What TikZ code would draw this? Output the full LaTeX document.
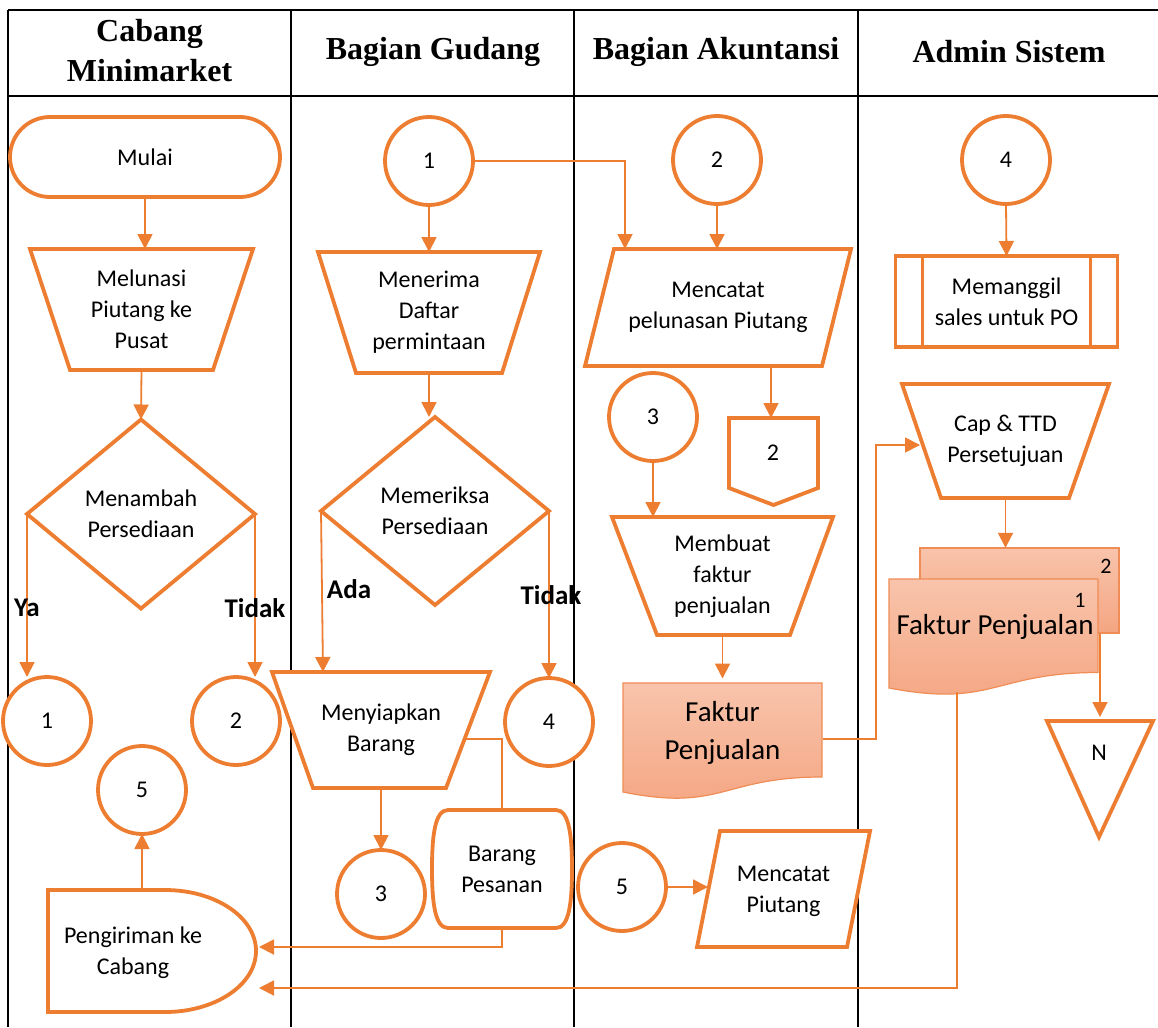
\documentclass[tikz,border=0pt]{standalone}
\usepackage{fontspec}
\setmainfont{Carlito}
\newfontfamily\hdrfont{Liberation Serif}
\usetikzlibrary{arrows.meta,calc,shapes.geometric}
\definecolor{orng}{HTML}{ED7D31}
\definecolor{doctop}{HTML}{F8C4AB}
\definecolor{docbot}{HTML}{F4A582}
\definecolor{docline}{HTML}{F08C55}
\begin{document}
\begin{tikzpicture}[x=1pt,y=-1pt,
  shp/.style={draw=orng,line width=3.8pt,fill=white},
  con/.style={draw=orng,line width=1.8pt,-{Triangle[length=15pt,width=15pt]}},
  lin/.style={draw=orng,line width=1.8pt},
  txt/.style={align=center,inner sep=0pt,outer sep=0pt,font=\fontsize{24}{31}\selectfont},
  bigtxt/.style={align=center,inner sep=0pt,outer sep=0pt,font=\fontsize{29}{38}\selectfont},
  circ/.style={circle,shp,minimum size=88pt,inner sep=0pt,outer sep=0pt,font=\fontsize{24}{31}\selectfont},
  hdr/.style={font=\hdrfont\bfseries\fontsize{32}{40}\selectfont,align=center,inner sep=0pt},
  lbl/.style={font=\bfseries\fontsize{27}{32}\selectfont,inner sep=0pt},
  grid/.style={draw=black,line width=2pt},
  docstyle/.style={draw=docline,line width=1.2pt,top color=doctop,bottom color=docbot},
]
\useasboundingbox (0,0) rectangle (1158,1027);
% table
\draw[grid] (8,10) -- (1158,10);
\draw[grid] (8,96) -- (1158,96);
\foreach \x in {8,291,574,858} \draw[grid] (\x,10) -- (\x,1027);
\node[hdr] (h1) at (149.5,51) {Cabang\\Minimarket};
\node[hdr] (h2) at (433,52) {Bagian Gudang};
\node[hdr] (h3) at (716,52) {Bagian Akuntansi};
\node[hdr] (h4) at (1009,52) {Admin Sistem};

% ---------- lane 1
\node[shp,txt,rounded corners=40pt,minimum width=270pt,minimum height=80pt] (mulai) at (145,157) {Mulai};
\draw[shp] (30,249) -- (253,249) -- (213,370) -- (70,370) -- cycle;
\node[txt,minimum width=223pt,minimum height=121pt] (mel) at (141.5,309.5) {Melunasi\\Piutang ke\\Pusat};
\node[diamond,shp,txt,minimum width=228pt,minimum height=189pt] (d1) at (141,514) {Menambah\\Persediaan};
\node[circ] (c1a) at (47,721) {1};
\node[circ] (c2a) at (236,721) {2};
\node[circ] (c5a) at (142,790) {5};
\draw[shp] (48,890) -- (165,890) .. controls (215,890) and (256,917) .. (256,951) .. controls (256,985) and (215,1012) .. (165,1012) -- (48,1012) -- cycle;
\node[txt] (peng) at (133,953) {Pengiriman ke\\Cabang};
\coordinate (pengtop) at (142,890);
\coordinate (pin1) at (259,947);
\coordinate (pin2) at (259,988);

\draw[con] (mulai.south) -- (mulai.south |- mel.north);
\draw[con] (mel.south) -- (d1.north);
\draw[con] (d1.west) -- (d1.west |- c1a.north);
\draw[con] (d1.east) -- (d1.east |- c2a.north);
\draw[con] (pengtop) -- (c5a.south);
\node[lbl] (ya) at (27,608) {Ya};
\node[lbl] (tidak1) at (255,608) {Tidak};

% ---------- lane 2
\node[circ] (c1b) at (429,161) {1};
\draw[shp] (318,252) -- (540,252) -- (502,373) -- (356,373) -- cycle;
\node[txt,minimum width=222pt,minimum height=121pt] (mener) at (429,312.5) {Menerima\\Daftar\\permintaan};
\node[diamond,shp,txt,minimum width=228pt,minimum height=188pt] (d2) at (435,511) {Memeriksa\\Persediaan};
\draw[shp] (272,672) -- (490,672) -- (446,788) -- (313,788) -- cycle;
\node[txt,minimum width=218pt,minimum height=116pt] (meny) at (381,730) {Menyiapkan\\Barang};
\node[circ] (c4b) at (549,722) {4};
\node[circ] (c3b) at (381,894) {3};
\draw[shp] (448,810) -- (556,810) .. controls (569,810) and (572,835) .. (572,869) .. controls (572,903) and (569,928) .. (556,928) -- (448,928) .. controls (435,928) and (432,903) .. (432,869) .. controls (432,835) and (435,810) .. (448,810) -- cycle;
\node[txt,minimum width=140pt,minimum height=118pt] (bp) at (502,869) {Barang\\Pesanan};
\coordinate (menyin) at (323,672);
\coordinate (menyout) at (464,739);

\draw[con] (c1b.south) -- (mener.north);
\draw[con] (mener.south) -- (mener.south |- d2.north);
\draw[con] (d2.west) -- (menyin);
\draw[con] (d2.east) -- (d2.east |- c4b.north);
\draw[con] (meny.south) -- (c3b.north);
\draw[lin] (menyout) -| (bp.north);
\draw[con] (bp.south) |- (pin1);
\node[lbl] (ada) at (349,589) {Ada};
\node[lbl] (tidak2) at (551,595) {Tidak};

% ---------- lane 3
\node[circ] (c2c) at (717,160) {2};
\draw[shp] (614,249) -- (851,249) -- (822,366) -- (585,366) -- cycle;
\node[txt,minimum width=266pt,minimum height=117pt] (mcp) at (718,307.5) {Mencatat\\pelunasan Piutang};
\coordinate (mcpin) at (625,249);
\coordinate (mcpout) at (771,366);
\draw[shp] (729,418) -- (818,418) -- (818,488) -- (773.5,505) -- (729,488) -- cycle;
\node[txt] (op2) at (773,453) {2};
\coordinate (op2in) at (771,418);
\node[circ] (c3c) at (653,417) {3};
\draw[shp] (612,517) -- (833,517) -- (790,635) -- (657,635) -- cycle;
\node[txt,minimum width=221pt,minimum height=118pt] (mbf) at (722.5,576) {Membuat\\faktur\\penjualan};
\draw[docstyle] (623,683) -- (822,683) -- (822,777) .. controls (722,777) and (722,812) .. (623,792) -- cycle;
\node[bigtxt,minimum width=199pt,minimum height=109pt] (fj) at (722.5,733) {Faktur\\Penjualan};
\coordinate (fjout) at (823,739);
\coordinate (fjbend) at (876,739);
\node[circ] (c5c) at (622,887) {5};
\draw[shp] (720,831) -- (870,831) -- (847,947) -- (697,947) -- cycle;
\node[txt,minimum width=173pt,minimum height=116pt] (mpt) at (783.5,891) {Mencatat\\Piutang};
\coordinate (mptin) at (708,887);

\draw[con] (c2c.south) -- (c2c.south |- mcp.north);
\draw[con] (c1b.east) -| (mcpin);
\draw[con] (mcpout) -- (op2in);
\draw[con] (c3c.south) -- (c3c.south |- mbf.north);
\draw[con] (mbf.south) -- (fj.north);
\draw[con] (c5c.east) -- (mptin);

% ---------- lane 4
\node[circ] (c4d) at (1006,160) {4};
\node[shp,txt,minimum width=222pt,minimum height=91pt] (mem) at (1006.5,301.5) {Memanggil\\sales untuk PO};
\draw[draw=orng,line width=3.8pt] ([xshift=27pt]mem.north west) -- ([xshift=27pt]mem.south west);
\draw[draw=orng,line width=3.8pt] ([xshift=-27pt]mem.north east) -- ([xshift=-27pt]mem.south east);
\draw[shp] (902,384) -- (1109,384) -- (1069,498) -- (941,498) -- cycle;
\node[txt,minimum width=207pt,minimum height=114pt] (cap) at (1005.5,441) {Cap \& TTD\\Persetujuan};
\coordinate (capin) at (920,445);
\draw[docstyle] (920,548) rectangle (1119,633);
\node[inner sep=0pt,minimum width=199pt,minimum height=85pt] (fpb) at (1019.5,590.5) {};
\draw[docstyle] (889,579) -- (1098,579) -- (1098,672.5) .. controls (993.5,672.5) and (993.5,708) .. (889,688) -- cycle;
\node[bigtxt] (fpf) at (995,627) {Faktur Penjualan};
\node[txt,font=\fontsize{22}{26}\selectfont] (n2) at (1106,566) {2};
\node[txt,font=\fontsize{22}{26}\selectfont] (n1) at (1080,600) {1};
\coordinate (fpfout) at (957,692);
\coordinate (fpbout) at (1100,634);
\draw[shp] (1047,721) -- (1153,721) -- (1099,837) -- cycle;
\node[txt] (nn) at (1099,753) {N};
\coordinate (nin) at (1100,717);

\draw[con] (c4d.south) -- (mem.north);
\draw[con] (cap.south) -- (cap.south |- fpb.north);
\draw[con] (fpbout) -- (nin);
\draw[con] (fjout) -- (fjbend) |- (capin);
\draw[con] (fpfout) |- (pin2);
\end{tikzpicture}
\end{document}
